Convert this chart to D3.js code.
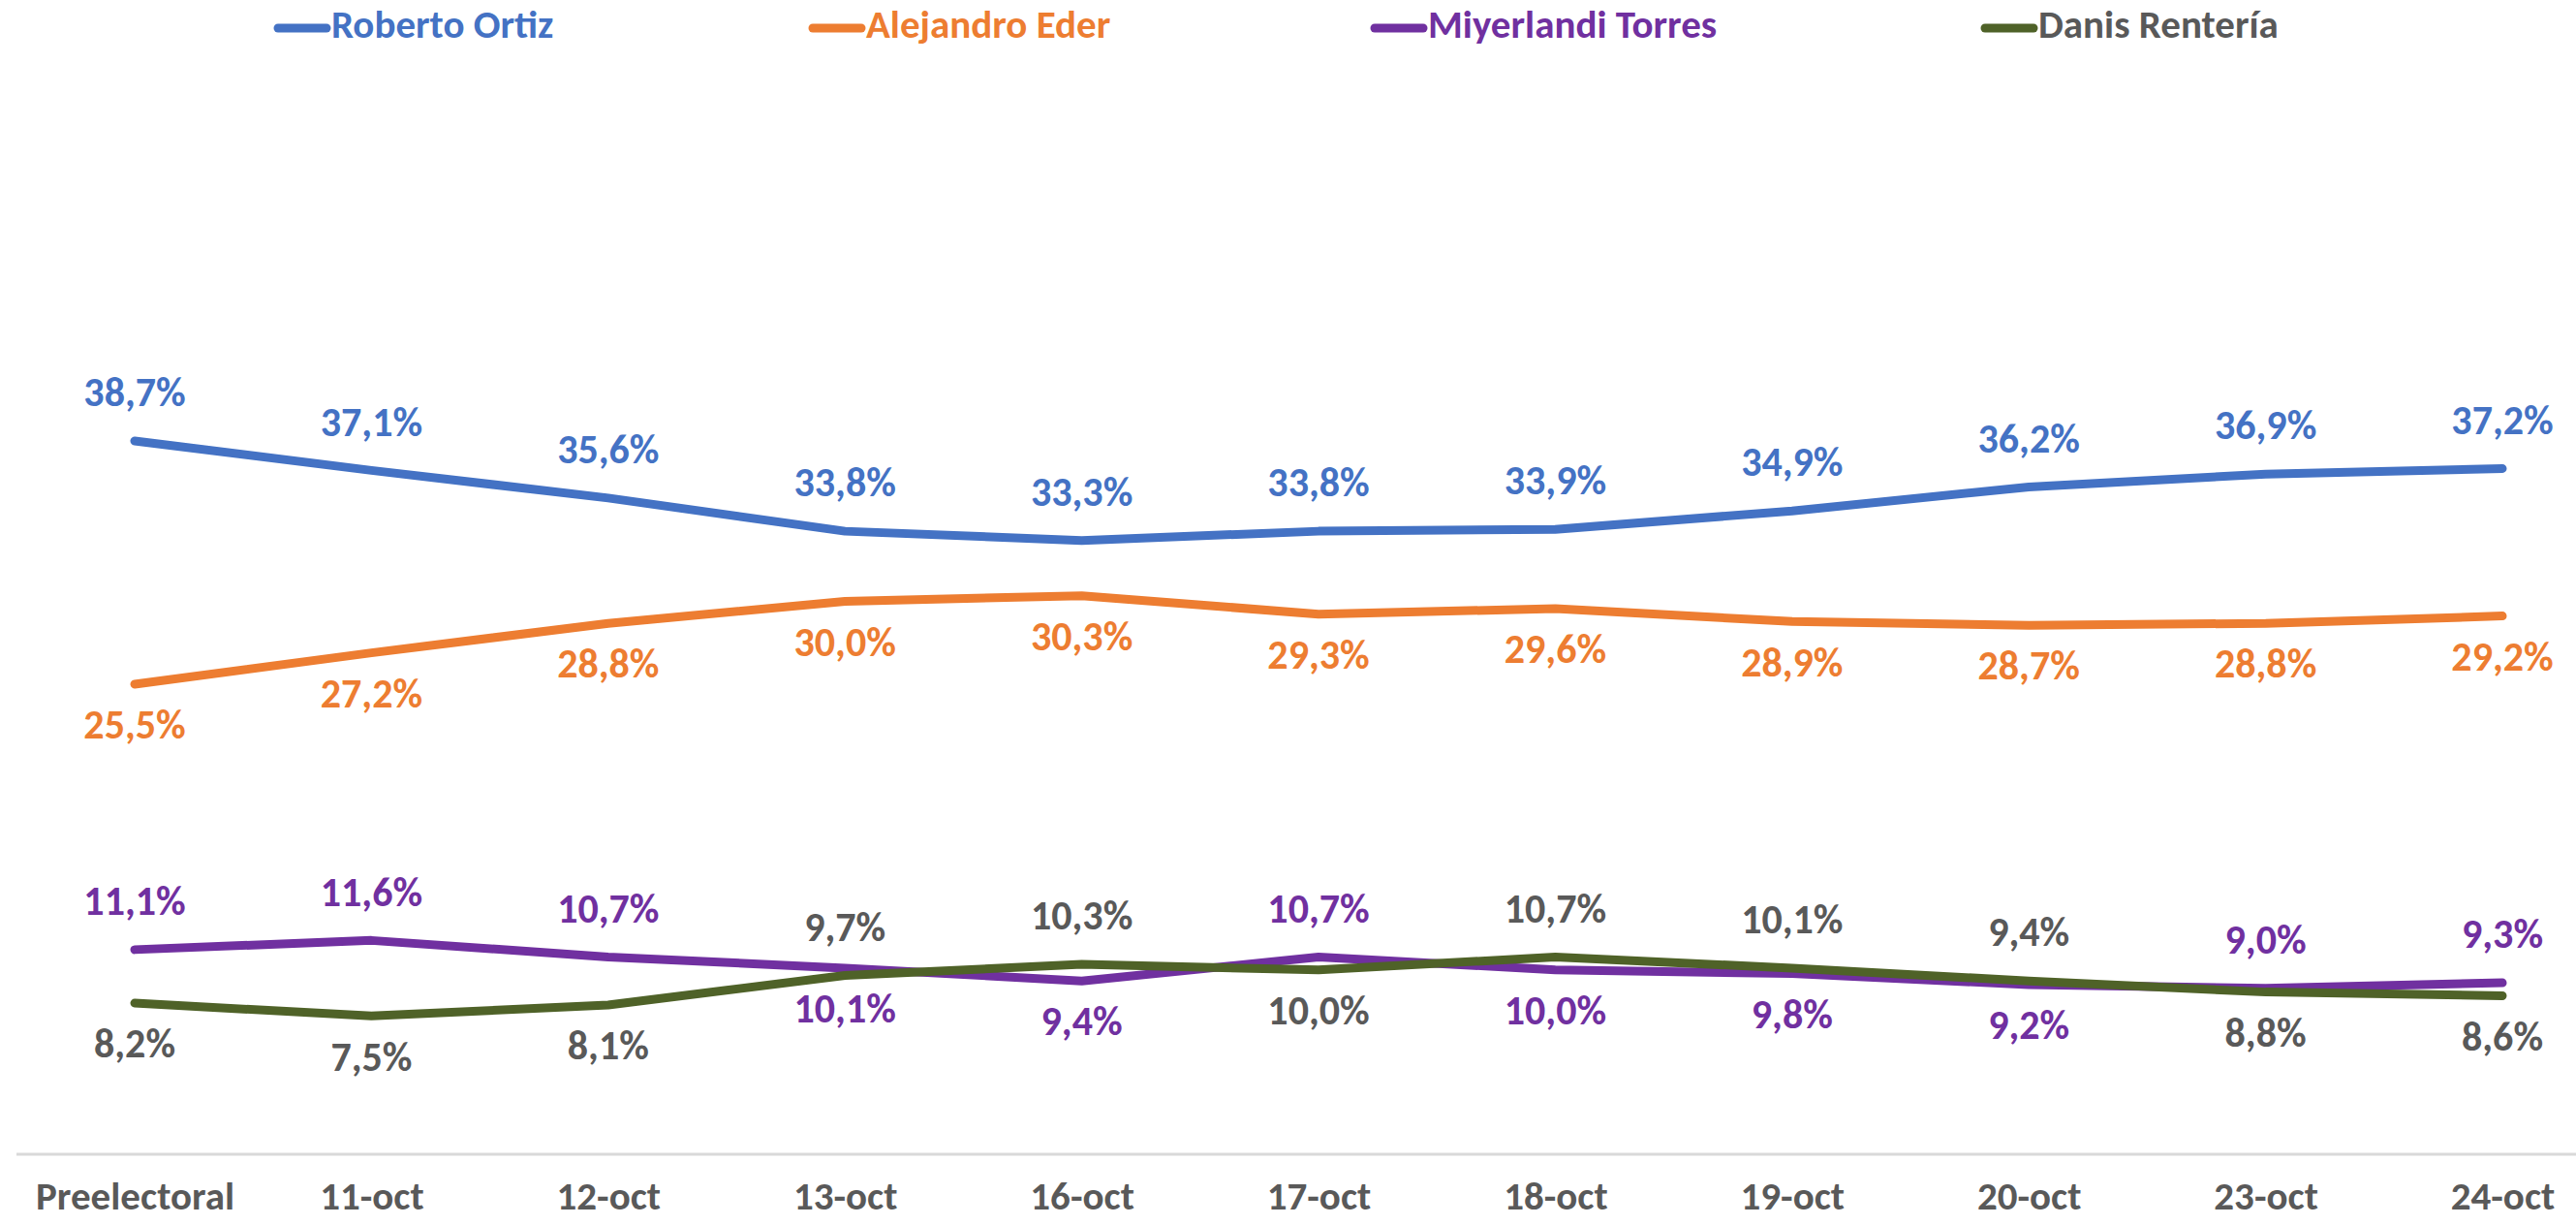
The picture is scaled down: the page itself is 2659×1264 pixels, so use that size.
<!DOCTYPE html>
<html>
<head>
<meta charset="utf-8">
<script src="https://cdn.jsdelivr.net/npm/d3@7"></script>
<style>
  html, body { margin: 0; padding: 0; background: #fff; }
  svg { display: block; }
  text { font-family: "Carlito", "Lato", "Liberation Sans", sans-serif; font-weight: bold; }
</style>
</head>
<body>
<svg id="chart"></svg>
<script>
const categories = ["Preelectoral", "11-oct", "12-oct", "13-oct", "16-oct", "17-oct", "18-oct", "19-oct", "20-oct", "23-oct", "24-oct"];

const seriesNames = ["Roberto Ortiz", "Alejandro Eder", "Miyerlandi Torres", "Danis Rentería"];
const robertoOrtiz = [38.7, 37.1, 35.6, 33.8, 33.3, 33.8, 33.9, 34.9, 36.2, 36.9, 37.2];
const alejandroEder = [25.5, 27.2, 28.8, 30.0, 30.3, 29.3, 29.6, 28.9, 28.7, 28.8, 29.2];
const miyerlandiTorres = [11.1, 11.6, 10.7, 10.1, 9.4, 10.7, 10.0, 9.8, 9.2, 9.0, 9.3];
const danisRenteria = [8.2, 7.5, 8.1, 9.7, 10.3, 10.0, 10.7, 10.1, 9.4, 8.8, 8.6];

// label placement: 1 = above the point, -1 = below
const robertoLabelSide = [1, 1, 1, 1, 1, 1, 1, 1, 1, 1, 1];
const ederLabelSide = [-1, -1, -1, -1, -1, -1, -1, -1, -1, -1, -1];
const miyerlandiLabelSide = [1, 1, 1, -1, -1, 1, -1, -1, -1, 1, 1];
const danisLabelSide = [-1, -1, -1, 1, 1, -1, 1, 1, 1, -1, -1];

const lineColours = ["#4472C4", "#ED7D31", "#7030A0", "#4F6228"];
const labelColours = ["#4472C4", "#ED7D31", "#7030A0", "#595959"];
const legendX = [283, 835, 1415, 2045];

const width = 2659,
    height = 1264;

const series = [
    { name: seriesNames[0], values: robertoOrtiz, sides: robertoLabelSide },
    { name: seriesNames[1], values: alejandroEder, sides: ederLabelSide },
    { name: seriesNames[2], values: miyerlandiTorres, sides: miyerlandiLabelSide },
    { name: seriesNames[3], values: danisRenteria, sides: danisLabelSide }
];

const svg = d3.select("#chart")
    .attr("width", width)
    .attr("height", height)
    .attr("viewBox", `0 0 ${width} ${height}`);

const xAxis = d3.scalePoint()
    .domain(categories)
    .range([139, 2583]);

const yAxis = d3.scaleLinear()
    .domain([0, 45])
    .range([1191, 1191 - 45 * 19.02]);

// category axis
const axisG = svg.append("g")
    .attr("transform", "translate(0," + yAxis(0) + ")")
    .call(d3.axisBottom(xAxis).tickSize(0).tickPadding(43));
axisG.select(".domain")
    .attr("d", `M17,0H${width}`)
    .attr("stroke", "#D9D9D9")
    .attr("stroke-width", 3);
axisG.selectAll(".tick text")
    .attr("fill", "#595959")
    .style("font-size", "41px")
    .attr("dy", "0.35em");

const line = d3.line()
    .x((d, i) => xAxis(categories[i]))
    .y(d => yAxis(d));

series.forEach((s, k) => {
    svg.append("path")
        .datum(s.values)
        .attr("fill", "none")
        .attr("stroke", lineColours[k])
        .attr("stroke-width", 9)
        .attr("stroke-linecap", "round")
        .attr("stroke-linejoin", "round")
        .attr("d", line);
});

series.forEach((s, k) => {
    svg.append("g")
        .selectAll("text")
        .data(s.values)
        .enter()
        .append("text")
        .attr("x", (d, i) => xAxis(categories[i]))
        .attr("y", (d, i) => yAxis(d) - s.sides[i] * 46)
        .attr("text-anchor", "middle")
        .attr("dominant-baseline", "middle")
        .attr("fill", labelColours[k])
        .style("font-size", "42px")
        .text(d => d.toFixed(1).replace(".", ",") + "%");
});

// legend
const legend = svg.append("g")
    .selectAll("g")
    .data(series)
    .enter()
    .append("g")
    .attr("transform", (d, i) => "translate(" + legendX[i] + ",29)");
legend.append("line")
    .attr("x1", 4)
    .attr("x2", 54)
    .attr("stroke", (d, i) => lineColours[i])
    .attr("stroke-width", 9)
    .attr("stroke-linecap", "round");
legend.append("text")
    .attr("x", 59)
    .attr("dominant-baseline", "middle")
    .attr("fill", (d, i) => labelColours[i])
    .style("font-size", "41px")
    .text(d => d.name);
</script>
</body>
</html>
